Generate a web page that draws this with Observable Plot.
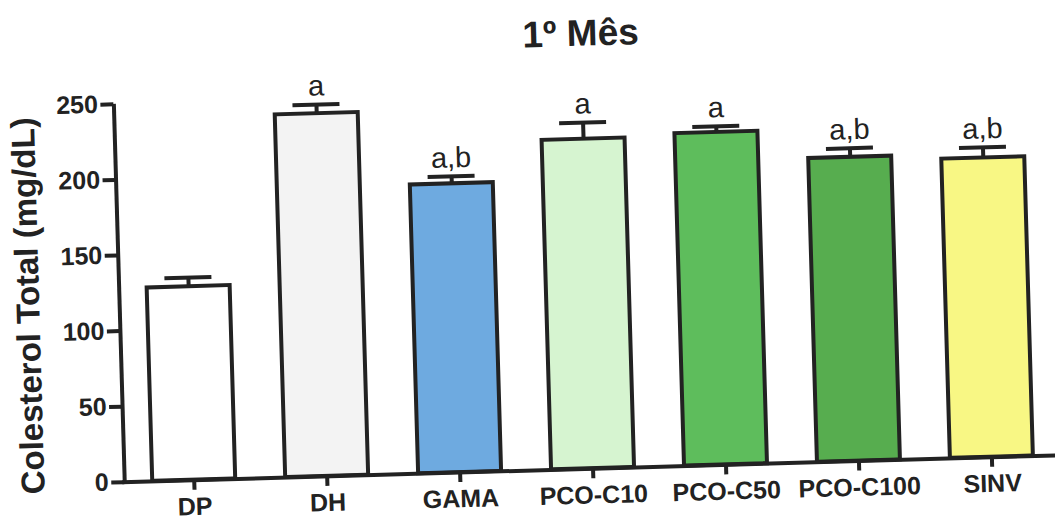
<!DOCTYPE html>
<html>
<head>
<meta charset="utf-8">
<script src="https://cdn.jsdelivr.net/npm/d3@7"></script>
<script src="https://cdn.jsdelivr.net/npm/@observablehq/plot@0.6"></script>
<style>
  html, body { margin: 0; padding: 0; background: #fff; }
  #chart { width: 1055px; height: 518px; overflow: hidden; position: relative; }
  #chart svg {
    position: absolute; left: 0; top: 0;
    transform: rotate(-1.65deg);
    transform-origin: 527.5px 259px;
    font-family: "Liberation Sans", Arial, sans-serif;
  }
</style>
</head>
<body>
<div id="chart"></div>
<script>
// Total cholesterol after the first month, mean ± SEM per group
const groups  = ["DP", "DH", "GAMA", "PCO-C10", "PCO-C50", "PCO-C100", "SINV"];
const means   = [128, 240, 191, 218, 220, 201, 198];
const sems    = [6, 6, 5, 11, 4, 6, 7];
const letters = ["", "a", "a,b", "a", "a", "a,b", "a,b"];
const fills   = ["#ffffff", "#f3f3f3", "#6eaae0", "#d6f4d0", "#5ebd5c", "#57ad4f", "#f8f784"];
const yTicks  = [0, 50, 100, 150, 200, 250];
const title   = "1º Mês";
const yLabel  = "Colesterol Total (mg/dL)";

const rows = groups.map((g, i) => ({
  group: g, mean: means[i], top: means[i] + sems[i], sig: letters[i], fill: fills[i]
}));

const ink = "#222";
const font = "Liberation Sans, Arial, sans-serif";
const marginLeft = 118, marginRight = 0, width = 1055;
// offset from the frame's horizontal centre to its left edge
const toLeftEdge = marginLeft - (marginLeft + width - marginRight) / 2;

const chart = Plot.plot({
  width,
  height: 518,
  marginLeft,
  marginRight,
  marginTop: 92,
  marginBottom: 48,
  style: { color: ink, fontFamily: font, background: "transparent", overflow: "visible" },
  x: { domain: groups, paddingInner: 0.373, paddingOuter: 0.1865, align: 0.5 },
  y: { domain: [0, 250] },
  marks: [
    // error bars: stem and cap
    Plot.ruleX(rows, { x: "group", y1: "mean", y2: "top", stroke: ink, strokeWidth: 4 }),
    Plot.tickY(rows, { x: "group", y: "top", stroke: ink, strokeWidth: 4, insetLeft: 18, insetRight: 18 }),
    // bars
    Plot.barY(rows, { x: "group", y: "mean", fill: "fill", stroke: ink, strokeWidth: 4 }),
    // significance letters
    Plot.text(rows, {
      x: "group", y: "top", text: "sig", dy: -9, lineAnchor: "bottom",
      fontSize: 29, fill: ink, fontFamily: font
    }),
    // axes
    Plot.axisY({
      ticks: yTicks, tickSize: 13, tickPadding: 3, strokeWidth: 4,
      fontSize: 25, fontWeight: "bold", fontFamily: font, label: null
    }),
    Plot.axisX({
      tickSize: 10, tickPadding: 7, strokeWidth: 4,
      fontSize: 25, fontWeight: "bold", fontFamily: font, label: null
    }),
    // y-axis line, from 0 to the top tick
    Plot.ruleX([0], { x: null, y1: 0, y2: 250, dx: toLeftEdge, stroke: ink, strokeWidth: 4 }),
    // x-axis line
    Plot.ruleY([0], { stroke: ink, strokeWidth: 4, insetLeft: -2 }),
    // y-axis title
    Plot.text([yLabel], {
      frameAnchor: "left", textAnchor: "middle", lineAnchor: "middle",
      dx: -91, dy: 10, rotate: -90,
      fontSize: 33, fontWeight: "bold", fill: ink, fontFamily: font
    }),
    // chart title
    Plot.text([title], {
      frameAnchor: "top", dy: -57, lineAnchor: "middle",
      fontSize: 37, fontWeight: "bold", fill: ink, fontFamily: font
    })
  ]
});

document.getElementById("chart").appendChild(chart);
</script>
</body>
</html>
